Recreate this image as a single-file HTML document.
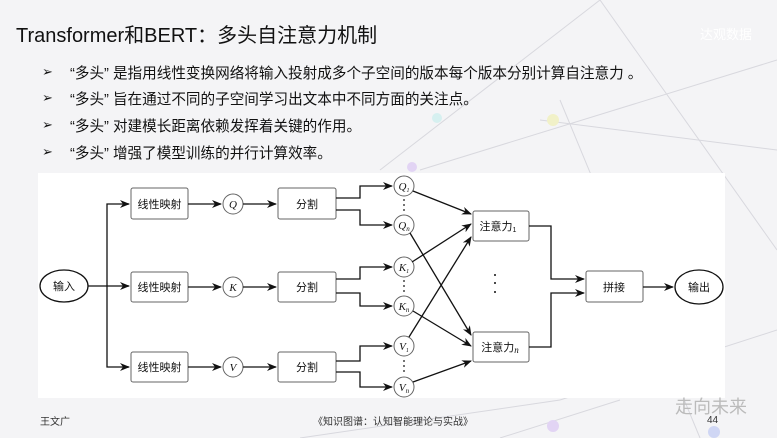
<!DOCTYPE html>
<html><head><meta charset="utf-8">
<style>
html,body{margin:0;padding:0;}
body{width:777px;height:438px;overflow:hidden;background:#f4f4f6;position:relative;font-family:"Liberation Sans","Noto Sans CJK SC",sans-serif;}
.t{position:absolute;white-space:nowrap;color:#111;}
.b{position:absolute;white-space:nowrap;color:#111;font-size:14.6px;}
.ar{position:absolute;font-size:13px;color:#111;}
</style></head><body>
<svg width="777" height="438" style="position:absolute;left:0;top:0" xmlns="http://www.w3.org/2000/svg">
 <g stroke="#d8d8de" stroke-width="1" fill="none">
  <line x1="380" y1="170" x2="600" y2="0"/><line x1="420" y1="170" x2="777" y2="60"/>
  <line x1="540" y1="120" x2="777" y2="150"/><line x1="560" y1="100" x2="700" y2="438"/>
  <line x1="600" y1="0" x2="777" y2="250"/><line x1="300" y1="438" x2="560" y2="400"/>
  <line x1="560" y1="400" x2="777" y2="330"/><line x1="500" y1="438" x2="620" y2="400"/>
 </g>
 <circle cx="553" cy="120" r="6" fill="#f1f1c8"/><circle cx="437" cy="118" r="5" fill="#d6f0f0"/>
 <circle cx="412" cy="167" r="5" fill="#e2d4f4"/><circle cx="714" cy="432" r="6" fill="#cfd6f4"/>
 <circle cx="553" cy="426" r="6" fill="#e2d4f4"/>
 <rect x="38" y="173" width="687" height="225" fill="#fff"/>
 <defs><marker id="a" markerWidth="10" markerHeight="8" refX="9" refY="4" orient="auto" markerUnits="userSpaceOnUse"><path d="M0,0 L10,4 L0,8 L3,4 z" fill="#111"/></marker></defs>
 <g stroke="#111" stroke-width="1.3" fill="none">
  <ellipse cx="64" cy="286" rx="24" ry="16"/>
  <ellipse cx="699" cy="287" rx="24" ry="17"/>
  <line x1="88" y1="286" x2="129" y2="286" marker-end="url(#a)"/>
  <polyline points="107,286 107,204 129,204" marker-end="url(#a)"/>
  <polyline points="107,286 107,367 129,367" marker-end="url(#a)"/>
  <g stroke="#666" stroke-width="1">
   <rect x="131" y="188" width="57" height="31" rx="2"/><rect x="131" y="272" width="57" height="30" rx="2"/><rect x="131" y="352" width="57" height="30" rx="2"/>
   <rect x="278" y="188" width="58" height="31" rx="2"/><rect x="278" y="272" width="58" height="30" rx="2"/><rect x="278" y="352" width="58" height="30" rx="2"/>
   <rect x="473" y="211" width="56" height="30" rx="2"/><rect x="473" y="332" width="56" height="30" rx="2"/>
   <rect x="586" y="271" width="57" height="31" rx="2"/>
   <circle cx="233" cy="204" r="10"/><circle cx="233" cy="287" r="10"/><circle cx="233" cy="367" r="10"/>
   <circle cx="404" cy="186" r="10"/><circle cx="404" cy="225" r="10"/>
   <circle cx="404" cy="267" r="10"/><circle cx="404" cy="306" r="10"/>
   <circle cx="404" cy="346" r="10"/><circle cx="404" cy="387" r="10"/>
  </g>
  <line x1="188" y1="204" x2="221" y2="204" marker-end="url(#a)"/>
  <line x1="188" y1="287" x2="221" y2="287" marker-end="url(#a)"/>
  <line x1="188" y1="367" x2="221" y2="367" marker-end="url(#a)"/>
  <line x1="243" y1="204" x2="276" y2="204" marker-end="url(#a)"/>
  <line x1="243" y1="287" x2="276" y2="287" marker-end="url(#a)"/>
  <line x1="243" y1="367" x2="276" y2="367" marker-end="url(#a)"/>
  <polyline points="336,198 360,198 360,186 392,186" marker-end="url(#a)"/>
  <polyline points="336,210 360,210 360,225 392,225" marker-end="url(#a)"/>
  <polyline points="336,279 360,279 360,267 392,267" marker-end="url(#a)"/>
  <polyline points="336,293 360,293 360,306 392,306" marker-end="url(#a)"/>
  <polyline points="336,361 360,361 360,346 392,346" marker-end="url(#a)"/>
  <polyline points="336,372 360,372 360,387 392,387" marker-end="url(#a)"/>
  <line x1="413" y1="191" x2="471" y2="214" marker-end="url(#a)"/>
  <line x1="412" y1="262" x2="471" y2="224" marker-end="url(#a)"/>
  <line x1="409" y1="337" x2="471" y2="237" marker-end="url(#a)"/>
  <line x1="410" y1="233" x2="471" y2="335" marker-end="url(#a)"/>
  <line x1="413" y1="311" x2="471" y2="346" marker-end="url(#a)"/>
  <line x1="413" y1="382" x2="471" y2="361" marker-end="url(#a)"/>
  <polyline points="529,226 551,226 551,279 584,279" marker-end="url(#a)"/>
  <polyline points="529,347 551,347 551,293 584,293" marker-end="url(#a)"/>
  <line x1="643" y1="287" x2="673" y2="287" marker-end="url(#a)"/>
 </g>
 <g fill="#111">
  <circle cx="404" cy="200" r="0.9"/><circle cx="404" cy="205" r="0.9"/><circle cx="404" cy="210" r="0.9"/>
  <circle cx="404" cy="281" r="0.9"/><circle cx="404" cy="286" r="0.9"/><circle cx="404" cy="291" r="0.9"/>
  <circle cx="404" cy="361" r="0.9"/><circle cx="404" cy="366" r="0.9"/><circle cx="404" cy="371" r="0.9"/>
  <circle cx="495" cy="275" r="1"/><circle cx="495" cy="283" r="1"/><circle cx="495" cy="292" r="1"/>
 </g>
 <g font-family="Liberation Sans,Noto Sans CJK SC,sans-serif" font-size="11" fill="#111" text-anchor="middle">
  <text x="64" y="290">输入</text><text x="699" y="291">输出</text>
  <text x="159.5" y="208">线性映射</text><text x="159.5" y="291">线性映射</text><text x="159.5" y="371">线性映射</text>
  <text x="307" y="208">分割</text><text x="307" y="291">分割</text><text x="307" y="371">分割</text>
  <text x="614" y="291">拼接</text>
  <text x="498" y="230">注意力<tspan font-size="7" dy="2">1</tspan></text>
  <text x="500" y="351">注意力<tspan font-family="Liberation Serif" font-style="italic" font-size="9" dy="2">n</tspan></text>
 </g>
 <g font-family="Liberation Serif,serif" font-style="italic" font-size="11" fill="#111" text-anchor="middle">
  <text x="233" y="208">Q</text><text x="233" y="291">K</text><text x="233" y="371">V</text>
  <text x="404" y="190">Q<tspan font-size="6" dy="2">1</tspan></text><text x="404" y="229">Q<tspan font-size="7" dy="2">n</tspan></text>
  <text x="404" y="271">K<tspan font-size="6" dy="2">1</tspan></text><text x="404" y="310">K<tspan font-size="7" dy="2">n</tspan></text>
  <text x="404" y="350">V<tspan font-size="6" dy="2">1</tspan></text><text x="404" y="391">V<tspan font-size="7" dy="2">n</tspan></text>
 </g>
</svg>
<div class="t" style="left:16px;top:19px;font-size:20px;">Transformer和BERT：多头自注意力机制</div>
<div class="t" style="left:700px;top:24px;font-size:13px;color:#fff;">达观数据</div>
<div class="ar" style="left:42px;top:64px;">➢</div>
<div class="ar" style="left:42px;top:90px;">➢</div>
<div class="ar" style="left:42px;top:117px;">➢</div>
<div class="ar" style="left:42px;top:144px;">➢</div>
<div class="b" style="left:70px;top:62px;">“多头” 是指用线性变换网络将输入投射成多个子空间的版本每个版本分别计算自注意力 。</div>
<div class="b" style="left:70px;top:88px;">“多头” 旨在通过不同的子空间学习出文本中不同方面的关注点。</div>
<div class="b" style="left:70px;top:115px;">“多头” 对建模长距离依赖发挥着关键的作用。</div>
<div class="b" style="left:70px;top:142px;">“多头” 增强了模型训练的并行计算效率。</div>
<div class="t" style="left:40px;top:413px;font-size:10px;color:#333;">王文广</div>
<div class="t" style="left:313px;top:413px;font-size:10px;color:#333;">《知识图谱：认知智能理论与实战》</div>
<div class="t" style="left:707px;top:415px;font-size:10px;color:#333;">44</div>
<div class="t" style="left:675px;top:393px;font-size:18px;color:#bbb;">走向未来</div>
</body></html>
